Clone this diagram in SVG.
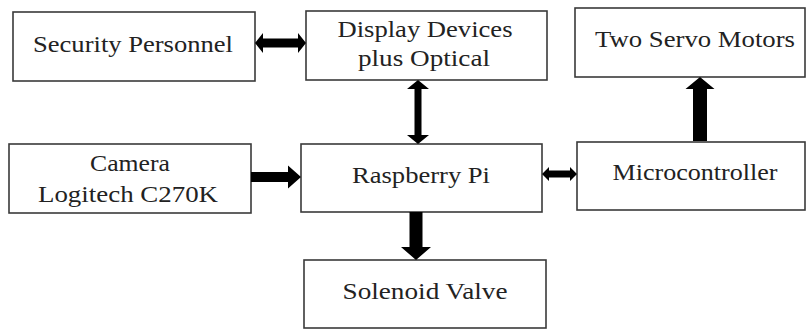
<svg xmlns="http://www.w3.org/2000/svg" width="807" height="329" viewBox="0 0 807 329">
<style>
.box{fill:#fff;stroke:#3a3a3a;stroke-width:1.6}
.t{font-family:"Liberation Serif","Times New Roman",serif;font-size:23px;fill:#222;text-anchor:middle}
.arr{fill:#000}
</style>
<rect width="807" height="329" fill="#fff"/>
<g id="security"><rect class="box" x="13" y="12" width="242" height="69"/><text class="t" x="133" y="52" textLength="200" lengthAdjust="spacingAndGlyphs">Security Personnel</text></g>
<g id="display"><rect class="box" x="306" y="11" width="241" height="69"/><text class="t" x="425" y="37" textLength="175" lengthAdjust="spacingAndGlyphs">Display Devices</text><text class="t" x="424" y="66" textLength="132" lengthAdjust="spacingAndGlyphs">plus Optical</text></g>
<g id="servo"><rect class="box" x="575" y="8" width="230" height="69"/><text class="t" x="695" y="47" textLength="200" lengthAdjust="spacingAndGlyphs">Two Servo Motors</text></g>
<g id="camera"><rect class="box" x="9" y="144" width="242" height="69"/><text class="t" x="130" y="171" textLength="80" lengthAdjust="spacingAndGlyphs">Camera</text><text class="t" x="128" y="202" textLength="180" lengthAdjust="spacingAndGlyphs">Logitech C270K</text></g>
<g id="raspberry"><rect class="box" x="301" y="144" width="241" height="68"/><text class="t" x="421" y="183" textLength="138" lengthAdjust="spacingAndGlyphs">Raspberry Pi</text></g>
<g id="micro"><rect class="box" x="577" y="142" width="228" height="68"/><text class="t" x="695" y="180" textLength="165" lengthAdjust="spacingAndGlyphs">Microcontroller</text></g>
<g id="solenoid"><rect class="box" x="304" y="260" width="242" height="68"/><text class="t" x="425" y="299" textLength="165" lengthAdjust="spacingAndGlyphs">Solenoid Valve</text></g>
<g id="connectors">
<polygon class="arr" points="255,43 263,33 263,38.5 298,38.5 298,33 306,43 298,53 298,47.5 263,47.5 263,53"/>
<polygon class="arr" points="418,80 429,89 421.5,89 421.5,135 429,135 418,144 407,135 414.5,135 414.5,89 407,89"/>
<polygon class="arr" points="251,172 288,172 288,165.5 301,177 288,188.5 288,182 251,182"/>
<polygon class="arr" points="542,174 549,167 549,170.5 570,170.5 570,167 577,174 570,181 570,177.5 549,177.5 549,181"/>
<polygon class="arr" points="409.5,212 422.5,212 422.5,247 431,247 416,260 401,247 409.5,247"/>
<polygon class="arr" points="693,141 707,141 707,89 714.5,89 700,77 685.5,89 693,89"/>
</g>
</svg>
